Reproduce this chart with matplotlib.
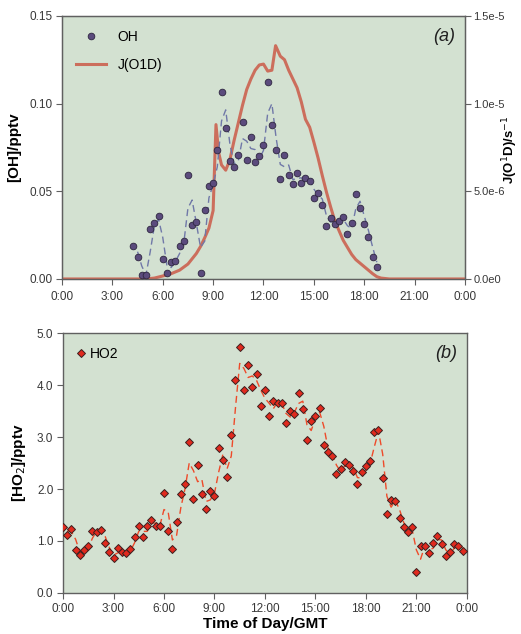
import matplotlib
matplotlib.use("Agg")
import matplotlib.pyplot as plt
import numpy as np
import pandas as pd
from matplotlib.ticker import FixedLocator, FuncFormatter

plt.rcParams['font.family'] = ['Liberation Sans', 'DejaVu Sans']

# OH measurements, every 15 min from 4:15 to 18:45 (hours GMT)
oh_time = np.arange(4.25, 18.76, 0.25)
oh = [0.0186, 0.0125, 0.0023, 0.0023, 0.0283, 0.0320, 0.0360, 0.0114, 0.0036, 0.0095,
      0.0103, 0.0186, 0.0218, 0.0590, 0.0310, 0.0325, 0.0036, 0.0395, 0.0530, 0.0546,
      0.0734, 0.1067, 0.0861, 0.0675, 0.0637, 0.0709, 0.0892, 0.0679, 0.0808, 0.0667,
      0.0700, 0.0766, 0.1124, 0.0875, 0.0736, 0.0570, 0.0709, 0.0590, 0.0542, 0.0605,
      0.0548, 0.0576, 0.0561, 0.0464, 0.0492, 0.0420, 0.0300, 0.0348, 0.0315, 0.0329,
      0.0352, 0.0255, 0.0321, 0.0483, 0.0403, 0.0315, 0.0238, 0.0124, 0.0067]

# J(O1D) photolysis rate
j_time = [0.0, 4.5, 5.0, 5.5, 6.0, 6.5, 7.0, 7.5, 8.0, 8.25, 8.5, 8.75, 9.0, 9.17, 9.33,
          9.5, 9.75, 10.0, 10.25, 10.5, 10.75, 11.0, 11.25, 11.5, 11.75, 12.0, 12.25, 12.5,
          12.72, 13.0, 13.25, 13.5, 13.75, 14.0, 14.25, 14.5, 14.75, 15.0, 15.25, 15.5,
          15.75, 16.0, 16.25, 16.5, 16.75, 17.0, 17.25, 17.5, 17.75, 18.0, 18.25, 18.5,
          18.75, 19.0, 19.5, 24.0]
j_o1d = [0, 0, 0, 0.05e-6, 0.17e-6, 0.3e-6, 0.5e-6, 0.85e-6, 1.45e-6, 1.85e-6, 2.35e-6,
         2.9e-6, 3.9e-6, 8.8e-6, 7.2e-6, 6.5e-6, 6.2e-6, 6.8e-6, 7.9e-6, 8.9e-6, 9.9e-6,
         1.08e-5, 1.14e-5, 1.19e-5, 1.22e-5, 1.225e-5, 1.185e-5, 1.19e-5, 1.33e-5, 1.27e-5,
         1.25e-5, 1.19e-5, 1.14e-5, 1.09e-5, 1.01e-5, 9.1e-6, 8.65e-6, 7.8e-6, 6.9e-6,
         5.9e-6, 4.95e-6, 4.1e-6, 3.3e-6, 2.75e-6, 2.2e-6, 1.8e-6, 1.4e-6, 1.1e-6, 0.9e-6,
         0.7e-6, 0.5e-6, 0.3e-6, 0.13e-6, 0.05e-6, 0, 0]

# HO2 measurements, every 15 min over the whole day
ho2_time = np.arange(0, 23.76, 0.25)
ho2 = [1.27, 1.12, 1.23, 0.83, 0.74, 0.83, 0.91, 1.20, 1.18, 1.22, 0.96, 0.79, 0.67, 0.87,
       0.79, 0.76, 0.85, 1.08, 1.29, 1.08, 1.29, 1.40, 1.29, 1.29, 1.92, 1.19, 0.85, 1.37,
       1.91, 2.10, 2.90, 1.81, 2.47, 1.90, 1.62, 1.96, 1.87, 2.78, 2.55, 2.23, 3.04, 4.09,
       4.74, 3.90, 4.39, 3.96, 4.22, 3.59, 3.90, 3.40, 3.69, 3.65, 3.65, 3.26, 3.51, 3.44,
       3.85, 3.53, 2.94, 3.31, 3.40, 3.56, 2.85, 2.71, 2.63, 2.29, 2.38, 2.52, 2.47, 2.35,
       2.09, 2.33, 2.44, 2.53, 3.09, 3.13, 2.21, 1.51, 1.79, 1.77, 1.44, 1.27, 1.18, 1.26,
       0.40, 0.90, 0.90, 0.76, 0.96, 1.10, 0.94, 0.72, 0.78, 0.94, 0.91, 0.81]

xticks = np.arange(0, 25, 3)
xlabels = ['0:00', '3:00', '6:00', '9:00', '12:00', '15:00', '18:00', '21:00', '0:00']

# 2-point moving average trendlines
oh_ma = pd.Series(oh).rolling(2).mean()
ho2_ma = pd.Series(ho2).rolling(2).mean()

bg = '#d3e1d1'
spine_col = '#606060'
tick_kw = dict(direction='out', length=4, width=0.8, color=spine_col,
               labelsize=8.5, labelcolor='#383838', pad=3)

fig = plt.figure(figsize=(5.21, 6.34), dpi=100)
ax1 = fig.add_axes([0.119, 0.56, 0.7735, 0.415])
ax2 = fig.add_axes([0.121, 0.0647, 0.775, 0.41])


def style(ax):
    ax.set_facecolor(bg)
    for s in ax.spines.values():
        s.set_color(spine_col)
        s.set_linewidth(1.0)
    ax.tick_params(**tick_kw)
    ax.set_xlim(0, 24)
    ax.xaxis.set_major_locator(FixedLocator(xticks))
    ax.set_xticklabels(xlabels)


# (a) OH and J(O1D)
style(ax1)
ax1.tick_params(axis='x', pad=5)
ax1.plot(oh_time, oh_ma, color='#7078a8', lw=1.0, dashes=(5, 3), zorder=2)
h_oh, = ax1.plot(oh_time, oh, 'o', ms=4.8, mfc='#5b4b7d', mec='#2e2640', mew=0.6,
                 zorder=4, label='OH')
ax1.set_ylim(0, 0.15)
ax1.set_yticks([0, 0.05, 0.10, 0.15])
ax1.yaxis.set_major_formatter(FuncFormatter(lambda v, p: '%.2f' % v))
ax1.set_ylabel('[OH]/pptv', fontsize=11, fontweight='bold', labelpad=6)

axj = ax1.twinx()
axj.set_ylim(0, 1.5e-5)
h_j, = axj.plot(j_time, j_o1d, color='#cc6e5c', lw=2.2, zorder=3, label='J(O1D)')
axj.set_yticks([0, 5e-6, 1e-5, 1.5e-5])
axj.set_yticklabels(['0.0e0', '5.0e-6', '1.0e-5', '1.5e-5'])
axj.tick_params(**tick_kw)
axj.tick_params(axis='y', labelsize=8, pad=2)
for s in axj.spines.values():
    s.set_color(spine_col)
fig.text(510 / 521, 1 - 150 / 634, 'J(O$^1$D)/s$^{-1}$', fontsize=9.5,
         fontweight='bold', rotation=90, ha='center', va='center')
ax1.set_zorder(axj.get_zorder() + 1)
ax1.patch.set_visible(False)
axj.patch.set_visible(True)
axj.set_facecolor(bg)

ax1.legend(handles=[h_oh, h_j], loc='upper left', frameon=False, fontsize=10,
           handlelength=2.2, borderaxespad=0.6, labelspacing=1.0)
ax1.text(0.975, 0.955, '(a)', transform=ax1.transAxes, ha='right', va='top',
         fontsize=13, style='italic', color='#202020')

# (b) HO2
style(ax2)
ax2.plot(ho2_time, ho2_ma, color='#ee4a2a', lw=1.0, dashes=(5, 3), zorder=2)
h_ho2, = ax2.plot(ho2_time, ho2, 'D', ms=3.8, mfc='#e02a1e', mec='#3a2020', mew=0.7,
                  zorder=4, label='HO2')
ax2.set_ylim(0, 5.0)
ax2.set_yticks(np.arange(0, 5.1, 1.0))
ax2.yaxis.set_major_formatter(FuncFormatter(lambda v, p: '%.1f' % v))
ax2.set_ylabel('[HO$_2$]/pptv', fontsize=11, fontweight='bold', labelpad=6)
ax2.set_xlabel('Time of Day/GMT', fontsize=11, fontweight='bold', labelpad=2)
ax2.legend(handles=[h_ho2], loc='upper left', frameon=False, fontsize=10,
           handlelength=0.6, handletextpad=0.3, borderaxespad=0.6)
ax2.text(0.975, 0.955, '(b)', transform=ax2.transAxes, ha='right', va='top',
         fontsize=13, style='italic', color='#202020')

fig.savefig('out.png', dpi=100)
